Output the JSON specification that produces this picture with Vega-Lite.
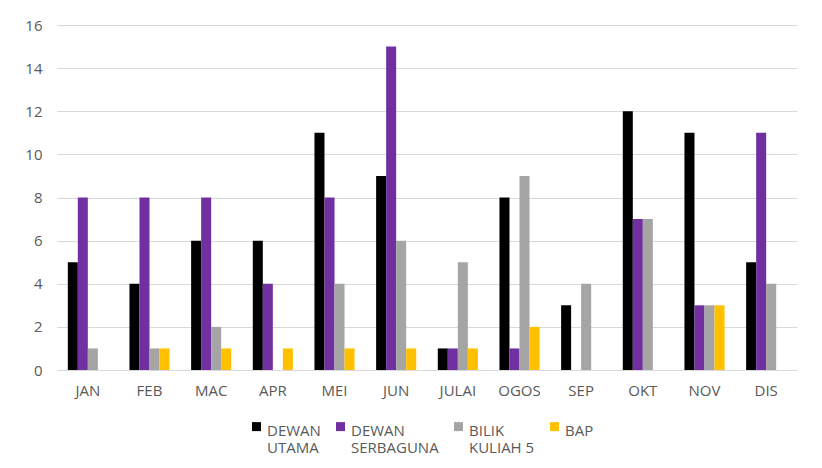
{
  "$schema": "https://vega.github.io/schema/vega-lite/v6.json",
  "width": 740,
  "height": 345,
  "autosize": {"type": "none"},
  "padding": {"left": 57, "top": 25, "right": 25, "bottom": 98},
  "background": "white",
  "config": {
    "view": {"stroke": null},
    "font": "Open Sans"
  },
  "data": {
    "values": [
      {"month": "JAN", "series": "DEWAN UTAMA", "value": 5},
      {"month": "JAN", "series": "DEWAN SERBAGUNA", "value": 8},
      {"month": "JAN", "series": "BILIK KULIAH 5", "value": 1},
      {"month": "JAN", "series": "BAP", "value": 0},
      {"month": "FEB", "series": "DEWAN UTAMA", "value": 4},
      {"month": "FEB", "series": "DEWAN SERBAGUNA", "value": 8},
      {"month": "FEB", "series": "BILIK KULIAH 5", "value": 1},
      {"month": "FEB", "series": "BAP", "value": 1},
      {"month": "MAC", "series": "DEWAN UTAMA", "value": 6},
      {"month": "MAC", "series": "DEWAN SERBAGUNA", "value": 8},
      {"month": "MAC", "series": "BILIK KULIAH 5", "value": 2},
      {"month": "MAC", "series": "BAP", "value": 1},
      {"month": "APR", "series": "DEWAN UTAMA", "value": 6},
      {"month": "APR", "series": "DEWAN SERBAGUNA", "value": 4},
      {"month": "APR", "series": "BILIK KULIAH 5", "value": 0},
      {"month": "APR", "series": "BAP", "value": 1},
      {"month": "MEI", "series": "DEWAN UTAMA", "value": 11},
      {"month": "MEI", "series": "DEWAN SERBAGUNA", "value": 8},
      {"month": "MEI", "series": "BILIK KULIAH 5", "value": 4},
      {"month": "MEI", "series": "BAP", "value": 1},
      {"month": "JUN", "series": "DEWAN UTAMA", "value": 9},
      {"month": "JUN", "series": "DEWAN SERBAGUNA", "value": 15},
      {"month": "JUN", "series": "BILIK KULIAH 5", "value": 6},
      {"month": "JUN", "series": "BAP", "value": 1},
      {"month": "JULAI", "series": "DEWAN UTAMA", "value": 1},
      {"month": "JULAI", "series": "DEWAN SERBAGUNA", "value": 1},
      {"month": "JULAI", "series": "BILIK KULIAH 5", "value": 5},
      {"month": "JULAI", "series": "BAP", "value": 1},
      {"month": "OGOS", "series": "DEWAN UTAMA", "value": 8},
      {"month": "OGOS", "series": "DEWAN SERBAGUNA", "value": 1},
      {"month": "OGOS", "series": "BILIK KULIAH 5", "value": 9},
      {"month": "OGOS", "series": "BAP", "value": 2},
      {"month": "SEP", "series": "DEWAN UTAMA", "value": 3},
      {"month": "SEP", "series": "DEWAN SERBAGUNA", "value": 0},
      {"month": "SEP", "series": "BILIK KULIAH 5", "value": 4},
      {"month": "SEP", "series": "BAP", "value": 0},
      {"month": "OKT", "series": "DEWAN UTAMA", "value": 12},
      {"month": "OKT", "series": "DEWAN SERBAGUNA", "value": 7},
      {"month": "OKT", "series": "BILIK KULIAH 5", "value": 7},
      {"month": "OKT", "series": "BAP", "value": 0},
      {"month": "NOV", "series": "DEWAN UTAMA", "value": 11},
      {"month": "NOV", "series": "DEWAN SERBAGUNA", "value": 3},
      {"month": "NOV", "series": "BILIK KULIAH 5", "value": 3},
      {"month": "NOV", "series": "BAP", "value": 3},
      {"month": "DIS", "series": "DEWAN UTAMA", "value": 5},
      {"month": "DIS", "series": "DEWAN SERBAGUNA", "value": 11},
      {"month": "DIS", "series": "BILIK KULIAH 5", "value": 4},
      {"month": "DIS", "series": "BAP", "value": 0}
    ]
  },
  "mark": {"type": "bar"},
  "encoding": {
    "x": {
      "field": "month",
      "type": "nominal",
      "sort": null,
      "scale": {"paddingInner": 0.35, "paddingOuter": 0.175},
      "axis": {
        "title": null,
        "labelAngle": 0,
        "ticks": false,
        "domain": true,
        "domainColor": "#d9d9d9",
        "labelColor": "#595959",
        "labelFontSize": 15,
        "labelPadding": 13
      }
    },
    "xOffset": {
      "field": "series",
      "type": "nominal",
      "sort": ["DEWAN UTAMA", "DEWAN SERBAGUNA", "BILIK KULIAH 5", "BAP"]
    },
    "y": {
      "field": "value",
      "type": "quantitative",
      "scale": {"domain": [0, 16]},
      "axis": {
        "title": null,
        "values": [0, 2, 4, 6, 8, 10, 12, 14, 16],
        "ticks": false,
        "domain": false,
        "gridColor": "#d9d9d9",
        "labelColor": "#595959",
        "labelFontSize": 15,
        "labelPadding": 15
      }
    },
    "color": {
      "field": "series",
      "type": "nominal",
      "scale": {
        "domain": ["DEWAN UTAMA", "DEWAN SERBAGUNA", "BILIK KULIAH 5", "BAP"],
        "range": ["#000000", "#7030A0", "#A5A5A5", "#FFC000"]
      },
      "legend": {
        "title": null,
        "orient": "none",
        "legendX": 192,
        "legendY": 398,
        "direction": "horizontal",
        "columns": 4,
        "columnPadding": 12,
        "symbolType": "M-1,-1.92H1V0.08H-1Z",
        "symbolSize": 81,
        "symbolStrokeWidth": 0,
        "labelColor": "#595959",
        "labelFontSize": 15,
        "labelOffset": 3,
        "labelLimit": 200,
        "labelExpr": "datum.label == 'DEWAN UTAMA' ? ['DEWAN', 'UTAMA'] : datum.label == 'DEWAN SERBAGUNA' ? ['DEWAN', 'SERBAGUNA'] : datum.label == 'BILIK KULIAH 5' ? ['BILIK', 'KULIAH 5'] : ['BAP', ' ']"
      }
    }
  }
}
